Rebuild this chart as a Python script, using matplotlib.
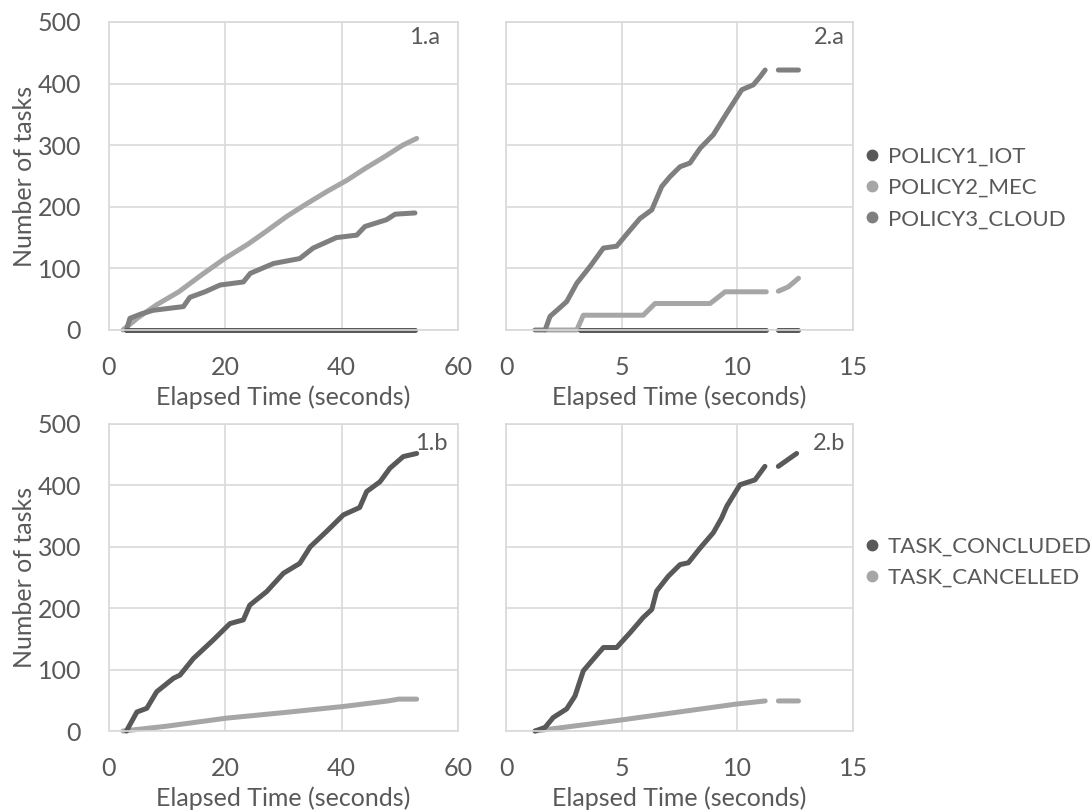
import numpy as np
import matplotlib
matplotlib.use("Agg")
from matplotlib import pyplot as plt
from matplotlib.lines import Line2D

# ---- data (elapsed seconds, number of tasks) ----
# panel 1.a
iot_1a_x = [3.0, 52.6]
iot_1a_y = [0, 0]
mec_1a_x = [2.4, 5.0, 8.2, 12.0, 16.0, 19.9, 24.0, 27.0, 30.5, 34.0, 37.5, 40.9, 44.0, 47.5, 50.5, 52.9]
mec_1a_y = [0, 20, 41, 62, 90, 116, 140, 160, 184, 205, 225, 243, 262, 282, 300, 311]
cloud_1a_x = [3.0, 3.6, 5.5, 7.6, 12.8, 13.9, 16.5, 19.1, 23.1, 24.3, 28.3, 32.8, 35.1, 39.1,
              42.6, 44.0, 47.7, 49.2, 52.6]
cloud_1a_y = [0, 19, 26, 32, 38, 53, 62, 73, 78, 92, 108, 116, 133, 150, 154, 168, 179, 188, 190]

# panel 2.a (None = gap in the series)
iot_2a_x = [3.2, 11.25, None, 11.77, 12.64]
iot_2a_y = [0, 0, None, 0, 0]
mec_2a_x = [1.7, 3.06, 3.34, 5.93, 6.44, 8.82, 9.47, 11.25, None, 11.77, 12.2, 12.64]
mec_2a_y = [0, 0, 24, 24, 43, 43, 62, 62, None, 63, 70, 84]
cloud_2a_x = [1.25, 1.69, 1.90, 2.62, 3.06, 3.63, 4.21, 4.78, 5.36, 5.79, 6.30, 6.73, 7.09,
              7.52, 7.95, 8.39, 8.96, 9.54, 10.19, 10.69, 10.98, 11.2, None, 11.77, 12.64]
cloud_2a_y = [0, 0, 22, 46, 76, 103, 133, 136, 162, 181, 195, 233, 249, 265, 271, 295, 317,
              352, 390, 398, 411, 422, None, 422, 422]

# panel 1.b
done_1b_x = [3.0, 4.8, 6.5, 8.2, 11.1, 12.2, 14.5, 17.9, 20.8, 23.1, 24.2, 27.1, 30.0, 32.8,
             34.6, 37.4, 40.3, 43.1, 44.3, 46.6, 48.3, 50.6, 52.9]
done_1b_y = [0, 31, 37, 64, 86, 91, 118, 148, 175, 181, 205, 227, 257, 273, 300, 325, 352,
             364, 390, 406, 428, 447, 452]
canc_1b_x = [2.4, 10.0, 20.2, 30.0, 40.3, 48.0, 49.8, 52.9]
canc_1b_y = [0, 8, 21, 30, 40, 49, 52, 52]

# panel 2.b
done_2b_x = [1.25, 1.69, 2.04, 2.62, 2.98, 3.34, 3.77, 4.21, 4.78, 5.36, 5.93, 6.30, 6.51,
             7.01, 7.52, 7.88, 8.39, 8.96, 9.32, 9.54, 10.11, 10.76, 11.19, None, 11.77, 12.56]
done_2b_y = [0, 6, 22, 36, 57, 98, 117, 136, 136, 160, 185, 198, 228, 252, 271, 274, 298,
             323, 347, 366, 401, 409, 431, None, 431, 452]
canc_2b_x = [1.25, 4.78, 9.97, 11.2, None, 11.77, 12.64]
canc_2b_y = [0, 17, 44, 49, None, 49, 49]

policy_labels = ["POLICY1_IOT", "POLICY2_MEC", "POLICY3_CLOUD"]
task_labels = ["TASK_CONCLUDED", "TASK_CANCELLED"]

DARK = "#595959"
LIGHT = "#a6a6a6"
MID = "#7f7f7f"
TEXT = "#595959"
GRID = "#d9d9d9"

plt.rcParams["font.family"] = ["Lato", "DejaVu Sans"]


def to_arr(v):
    return np.array([np.nan if a is None else a for a in v], dtype=float)


def style_axes(ax, xmax, xticks, tag, tag_x, tag_y, show_y):
    ax.set_xlim(0, xmax)
    ax.set_ylim(0, 500)
    ax.set_xticks(xticks)
    ax.set_yticks([0, 100, 200, 300, 400, 500])
    ax.grid(True, color=GRID, linewidth=1.2)
    ax.set_axisbelow(True)
    for s in ax.spines.values():
        s.set_color(GRID)
        s.set_linewidth(1.2)
    ax.tick_params(length=0, labelsize=18, colors=TEXT)
    ax.tick_params(axis="x", pad=19)
    ax.tick_params(axis="y", pad=20)
    if not show_y:
        ax.tick_params(axis="y", labelleft=False)
    else:
        ax.set_ylabel("Number of tasks", fontsize=18, color=TEXT, labelpad=1)
    ax.set_xlabel("Elapsed Time (seconds)", fontsize=18, color=TEXT, labelpad=4)
    ax.text(tag_x, tag_y, tag, transform=ax.transAxes, ha="right", va="center",
            fontsize=17, color=TEXT)


def draw(ax, x, y, color):
    ax.plot(to_arr(x), to_arr(y), color=color, linewidth=3.6,
            solid_capstyle="round", solid_joinstyle="round", clip_on=False)


fig = plt.figure(figsize=(10.92, 8.11), dpi=100)
ax1a = fig.add_axes([0.0998, 0.5931, 0.3196, 0.3798])
ax2a = fig.add_axes([0.4634, 0.5931, 0.3178, 0.3798])
ax1b = fig.add_axes([0.0998, 0.0986, 0.3196, 0.3786])
ax2b = fig.add_axes([0.4634, 0.0986, 0.3178, 0.3786])

style_axes(ax1a, 60, [0, 20, 40, 60], "1.a", 0.948, 0.948, True)
style_axes(ax2a, 15, [0, 5, 10, 15], "2.a", 0.977, 0.948, False)
style_axes(ax1b, 60, [0, 20, 40, 60], "1.b", 0.971, 0.938, True)
style_axes(ax2b, 15, [0, 5, 10, 15], "2.b", 0.977, 0.938, False)

draw(ax1a, mec_1a_x, mec_1a_y, LIGHT)
draw(ax1a, cloud_1a_x, cloud_1a_y, MID)
draw(ax1a, iot_1a_x, iot_1a_y, DARK)

draw(ax2a, mec_2a_x, mec_2a_y, LIGHT)
draw(ax2a, cloud_2a_x, cloud_2a_y, MID)
draw(ax2a, iot_2a_x, iot_2a_y, DARK)

draw(ax1b, canc_1b_x, canc_1b_y, LIGHT)
draw(ax1b, done_1b_x, done_1b_y, DARK)

draw(ax2b, canc_2b_x, canc_2b_y, LIGHT)
draw(ax2b, done_2b_x, done_2b_y, DARK)

# legends on the right
leg_kw = dict(loc="center left", frameon=False, fontsize=16, labelcolor=TEXT,
              handletextpad=0.2, labelspacing=0.5, handlelength=1.0,
              borderpad=0, borderaxespad=0)
h_pol = [Line2D([], [], linestyle="none", marker="o", markersize=7.5, color=c)
         for c in (DARK, LIGHT, MID)]
fig.legend(h_pol, policy_labels, bbox_to_anchor=(0.7885, 0.768), **leg_kw)
h_task = [Line2D([], [], linestyle="none", marker="o", markersize=7.5, color=c)
          for c in (DARK, LIGHT)]
fig.legend(h_task, task_labels, bbox_to_anchor=(0.7885, 0.307), **leg_kw)

fig.savefig("out.png", dpi=100)
